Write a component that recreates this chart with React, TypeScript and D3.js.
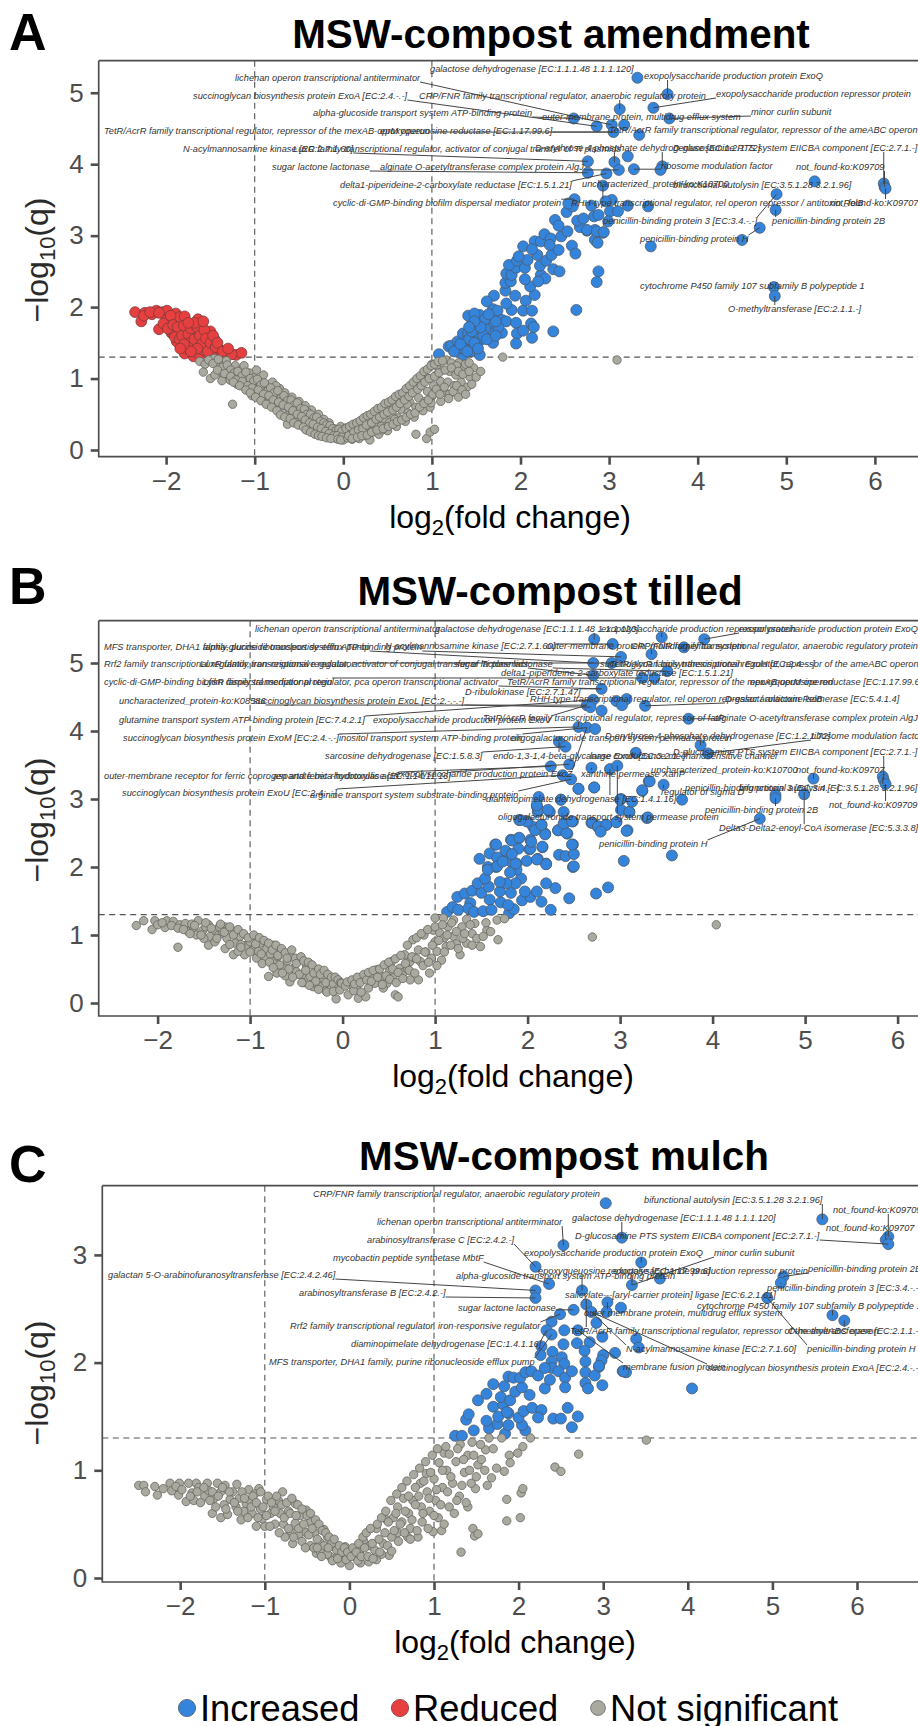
import React, { useEffect, useRef } from 'react';
import { axisBottom, axisLeft, format, scaleLinear, select } from 'd3';

type Pt = [number, number];
type Label = [string, number | null, number | null];

// ---- panel A values (log2 fold change, -log10 q)
const blueA: Pt[] = [
  [1.08,1.34],[1.19,1.45],[1.22,1.46],[1.29,1.52],[1.35,1.33],[1.30,1.42],[1.40,1.46],[1.45,1.38],[1.54,1.33],[1.54,1.53],[1.47,1.59],
  [1.35,1.63],[1.41,1.63],[1.45,1.76],[1.54,1.89],[1.41,1.88],[1.48,1.91],[1.56,1.77],[1.54,1.63],[1.66,1.73],[1.67,1.63],[1.69,1.87],
  [1.69,1.97],[1.74,1.95],[1.79,1.64],[1.69,1.50],[1.79,1.82],[1.84,1.80],[1.95,1.78],[1.96,1.63],[2.03,1.67],[2.12,1.77],[2.15,1.72],
  [2.13,1.57],[1.95,1.49],[2.37,1.66],[2.63,1.96],[2.03,1.95],[2.13,1.95],[1.90,1.96],[1.84,2.05],[2.06,2.09],[2.16,2.17],[1.94,2.16],
  [1.83,2.23],[1.70,2.16],[1.62,2.08],[2.11,2.29],[1.83,2.34],[1.89,2.36],[2.05,2.39],[2.23,2.45],[2.28,2.40],[2.20,2.36],[2.37,2.53],
  [2.44,2.50],[1.84,2.47],[1.90,2.45],[1.95,2.55],[2.05,2.55],[1.87,2.59],[1.96,2.65],[2.08,2.66],[2.22,2.58],[2.29,2.65],[2.19,2.73],
  [1.98,2.71],[2.35,2.73],[2.43,2.80],[2.03,2.85],[2.16,2.92],[2.23,2.92],[2.27,3.02],[2.34,2.96],[2.46,2.99],[2.53,3.06],[2.33,2.87],
  [2.13,2.81],[2.58,2.86],[2.62,2.75],[2.88,2.50],[2.86,2.35],[2.84,2.94],[2.87,2.90],[2.93,3.04],[2.84,3.08],[2.75,3.07],[2.67,3.12],
  [1.38,1.52],[1.50,1.45],[1.60,1.70],[1.50,1.70],[1.42,1.55],[1.75,1.72],[1.60,1.83],[1.36,1.42],
  [1.25,1.38],[1.32,1.48],[1.40,1.38],[1.48,1.50],[1.52,1.42],[1.58,1.60],[1.45,1.66],[1.62,1.55],[1.72,1.60],[1.55,1.72],[1.48,1.80],
  [1.72,1.80],[1.42,1.72],[1.64,1.90],
  [3.32,5.21],[3.66,4.98],[3.12,4.77],[3.50,4.79],[2.60,4.64],[3.68,4.64],[2.86,4.53],[3.03,4.55],[3.17,4.55],[3.05,4.45],[3.34,4.41],
  [3.21,4.11],[2.76,4.04],[3.06,4.03],[3.60,3.97],[3.58,3.92],[3.11,3.92],[3.28,3.93],[2.76,3.88],[2.97,3.87],[2.93,3.70],[5.32,3.76],
  [6.10,3.73],[6.11,3.68],[6.12,3.66],[4.89,3.58],[4.88,3.36],[4.70,3.11],[4.50,2.94],[3.47,2.85],[2.61,3.51],[3.44,3.41],[3.21,3.42],
  [2.80,3.42],[3.01,3.34],[3.10,3.34],[3.03,3.50],[2.96,3.48],[2.83,3.27],[2.88,3.29],[2.52,3.33],[2.59,3.41],[2.54,3.45],[2.39,3.22],
  [2.64,3.21],[2.71,3.24],[2.99,3.20],[2.43,3.14],[2.75,3.08],[2.86,3.06],[2.94,3.05],[4.86,2.28],[4.87,2.155],
];
const redA: Pt[] = [
  [-2.35,1.93],[-2.28,1.80],[-2.24,1.92],[-2.16,1.90],[-2.11,1.95],[-2.04,1.93],[-1.99,1.95],[-2.00,1.82],[-1.89,1.91],[-1.85,1.86],
  [-2.08,1.69],[-2.03,1.77],[-1.94,1.64],[-1.83,1.66],[-1.79,1.87],[-1.64,1.83],[-1.71,1.75],[-1.60,1.75],[-1.64,1.64],[-1.50,1.66],
  [-1.58,1.59],[-1.74,1.56],[-1.84,1.47],[-1.88,1.52],[-1.66,1.40],[-1.71,1.47],[-1.54,1.45],[-1.45,1.54],[-1.41,1.42],[-1.32,1.35],
  [-1.21,1.33],[-1.15,1.36],[-1.26,1.34],[-1.79,1.35],[-1.69,1.31],[-1.62,1.33],[-1.47,1.37],[-1.58,1.40],[-1.77,1.42],[-1.79,1.56],
  [-1.92,1.63],[-1.98,1.70],[-1.64,1.51],[-1.77,1.68],[-1.69,1.68],[-1.52,1.54],[-1.39,1.40],
  [-2.25,1.88],[-2.18,1.93],[-2.08,1.92],[-1.95,1.88],[-1.92,1.75],[-1.87,1.72],[-1.90,1.58],[-1.85,1.55],[-1.82,1.60],[-1.80,1.74],
  [-1.75,1.62],[-1.72,1.70],[-1.73,1.50],[-1.68,1.55],[-1.65,1.72],[-1.62,1.60],[-1.60,1.48],[-1.57,1.68],[-1.55,1.56],[-1.53,1.38],
  [-1.50,1.50],[-1.47,1.60],[-1.44,1.44],[-1.42,1.50],[-1.36,1.38],[-1.30,1.42],[-1.65,1.42],[-1.72,1.38],[-1.80,1.48],[-1.84,1.42],
  [-1.68,1.78],[-1.58,1.80],[-1.75,1.78],
];
const grayA: Pt[] = [
  [-1.62,1.24],[-1.56,1.20],[-1.58,1.09],[-1.50,1.00],[-1.45,1.05],[-1.46,1.28],[-1.40,1.20],[-1.38,1.10],[-1.35,1.02],[-1.32,1.25],
  [-1.30,1.13],[-1.28,0.98],[-1.25,1.06],[-1.22,1.18],[-1.20,0.92],[-1.18,1.00],[-1.15,1.12],[-1.12,1.18],[-1.12,0.88],[-1.08,0.98],
  [-1.06,1.08],[-1.04,0.83],[-1.02,0.93],[-1.00,1.02],[-0.98,1.12],[-0.97,0.78],[-0.95,0.87],[-0.92,0.97],[-0.90,1.05],[-0.88,0.80],
  [-0.85,0.90],[-0.83,0.72],[-0.80,0.83],[-0.80,0.95],[-0.77,0.66],[-0.74,0.76],[-0.72,0.86],[-0.70,0.60],[-0.68,0.70],[-0.66,0.80],
  [-0.63,0.55],[-0.60,0.66],[-0.58,0.74],[-0.63,0.36],[-0.55,0.45],[-0.52,0.60],[-0.50,0.68],[-0.47,0.38],[-0.45,0.50],[-0.43,0.62],
  [-0.40,0.33],[-0.38,0.44],[-0.36,0.56],[-0.33,0.27],[-0.30,0.40],[-0.28,0.50],[-0.26,0.23],[-0.24,0.33],[-0.22,0.43],[-0.20,0.19],
  [-0.18,0.28],[-0.16,0.38],[-0.13,0.20],[-0.11,0.30],[-0.08,0.16],[-0.05,0.24],[-0.03,0.33],[0.00,0.14],[0.02,0.22],[0.03,0.31],
  [-1.25,0.64],[-0.93,0.72],[-0.76,0.90],[-0.57,0.52],[-0.41,0.54],[-0.29,0.30],[-0.69,0.52],[-1.10,0.95],[-1.16,1.05],[-1.37,0.97],
  [-1.03,0.76],[-0.86,0.66],[-0.91,0.82],[-0.62,0.64],[-0.49,0.57],[-0.35,0.46],[-0.15,0.27],[-0.23,0.24],[-0.10,0.22],
  [-1.52,1.26],[-1.47,1.21],[-1.41,1.27],[-1.36,1.16],[-1.31,1.19],[-1.27,1.12],[-1.23,1.08],[-1.19,1.10],[-1.14,1.04],[-1.10,1.09],
  [-1.05,1.00],[-1.01,0.97],[-0.97,0.99],[-0.93,0.91],[-0.89,0.94],[-0.85,0.83],[-0.82,0.87],[-0.78,0.80],[-0.74,0.83],[-0.70,0.73],
  [-0.67,0.76],[-0.63,0.69],[-0.59,0.70],[-0.55,0.63],[-0.52,0.66],[-0.48,0.58],[-0.44,0.57],[-0.41,0.50],[-0.37,0.50],[-0.33,0.45],
  [-0.30,0.46],[-0.26,0.40],[-0.22,0.38],[-0.19,0.35],[-0.15,0.34],[-0.12,0.30],[-0.08,0.28],[-0.05,0.29],[-0.02,0.26],
  [-1.42,1.12],[-1.34,1.07],[-1.27,1.03],[-1.21,0.98],[-1.14,0.96],[-1.08,0.90],[-1.03,0.87],[-0.96,0.84],[-0.90,0.78],[-0.84,0.76],
  [-0.79,0.70],[-0.73,0.67],[-0.68,0.63],[-0.62,0.60],[-0.57,0.55],[-0.52,0.50],[-0.47,0.47],[-0.43,0.42],[-0.38,0.38],[-0.34,0.36],
  [-0.29,0.32],[-0.25,0.30],[-0.20,0.26],[-0.16,0.23],[-0.11,0.20],[-0.07,0.20],[-0.02,0.18],
  [-1.24,0.95],[-1.17,0.90],[-1.10,0.84],[-1.05,0.80],[-0.99,0.74],[-0.93,0.69],[-0.87,0.64],[-0.81,0.60],[-0.75,0.55],[-0.71,0.49],
  [-0.66,0.46],[-0.60,0.44],[-0.56,0.38],[-0.51,0.35],[-0.45,0.32],[-0.42,0.28],[-0.37,0.25],[-0.32,0.22],[-0.28,0.20],[-0.24,0.19],
  [-0.19,0.17],[-0.14,0.16],[-0.06,0.15],[-0.03,0.14],
  [0.05,0.17],[0.08,0.27],[0.10,0.15],[0.13,0.34],[0.15,0.22],[0.18,0.16],[0.20,0.30],[0.22,0.41],[0.25,0.20],[0.28,0.30],[0.30,0.44],
  [0.30,0.14],[0.33,0.25],[0.36,0.38],[0.38,0.50],[0.40,0.22],[0.43,0.33],[0.46,0.44],[0.48,0.58],[0.50,0.27],[0.52,0.38],[0.55,0.50],
  [0.57,0.63],[0.60,0.33],[0.62,0.45],[0.65,0.57],[0.67,0.72],[0.70,0.40],[0.73,0.52],[0.75,0.67],[0.77,0.80],[0.80,0.46],[0.82,0.60],
  [0.85,0.73],[0.87,0.90],[0.90,0.55],[0.92,0.68],[0.95,0.82],[0.96,1.00],[0.98,0.60],[1.00,0.75],[1.02,0.90],[1.05,1.05],[1.00,1.20],
  [1.07,0.82],[1.10,0.96],[1.12,1.12],[1.10,0.68],[1.15,0.80],[1.18,0.95],[1.20,1.10],[1.20,0.78],[1.25,0.90],[1.27,1.05],[1.30,0.74],
  [1.33,0.95],[1.36,1.14],[1.40,0.88],[1.43,1.02],[1.47,1.15],[1.16,1.26],[1.30,1.22],[1.05,1.18],[0.90,0.97],[0.72,0.64],[0.58,0.43],
  [0.82,0.22],[0.94,0.16],[0.98,0.25],[1.03,0.29],[1.80,1.30],[3.09,1.26],[0.99,0.66],[0.44,0.28],[0.24,0.26],[0.11,0.21],
  [0.03,0.30],[0.07,0.33],[0.11,0.36],[0.15,0.38],[0.19,0.41],[0.23,0.45],[0.27,0.48],[0.31,0.50],[0.35,0.54],[0.39,0.58],[0.43,0.60],
  [0.47,0.65],[0.51,0.67],[0.55,0.70],[0.59,0.75],[0.63,0.78],[0.67,0.80],[0.71,0.86],[0.75,0.90],[0.79,0.95],[0.83,1.00],[0.87,1.04],
  [0.91,1.10],[0.95,1.13],[0.99,1.18],[1.03,1.20],[1.07,1.24],[1.12,1.25],[1.22,1.22],[1.28,1.18],[1.38,1.20],[1.42,1.22],
  [0.06,0.20],[0.12,0.25],[0.17,0.28],[0.22,0.30],[0.26,0.35],[0.32,0.38],[0.37,0.43],[0.41,0.46],[0.46,0.50],[0.50,0.53],[0.56,0.56],
  [0.60,0.60],[0.64,0.65],[0.69,0.70],[0.74,0.75],[0.78,0.80],[0.84,0.85],[0.88,0.90],[0.92,0.95],[0.97,1.00],[1.03,1.03],[1.08,1.08],
  [1.15,1.12],[1.22,1.15],[1.30,1.10],[1.35,1.06],[1.42,1.10],[1.50,1.02],[1.55,1.10],
  [0.10,0.16],[0.16,0.18],[0.21,0.20],[0.27,0.21],[0.32,0.25],[0.38,0.28],[0.45,0.30],[0.51,0.33],[0.56,0.36],[0.61,0.40],[0.66,0.42],
  [0.71,0.46],[0.76,0.50],[0.81,0.52],[0.86,0.60],[0.91,0.65],[0.96,0.70],[1.01,0.78],[1.05,0.85],[1.09,0.78],[1.14,0.88],[1.19,0.72],
  [1.24,0.82],[1.28,0.90],[1.34,0.84],[1.38,0.78],[1.45,0.92],
];

const labelsA: Label[] = [
  ['galactose dehydrogenase [EC:1.1.1.48 1.1.1.120]', null, null],
  ['lichenan operon transcriptional antiterminator', 3.03, 4.55],
  ['succinoglycan biosynthesis protein ExoA [EC:2.4.-.-]', 2.86, 4.53],
  ['CRP/FNR family transcriptional regulator, anaerobic regulatory protein', 3.12, 4.77],
  ['alpha-glucoside transport system ATP-binding protein', 2.60, 4.64],
  ['outer-membrane protein, multidrug efflux system', null, null],
  ['exopolysaccharide production protein ExoQ', 3.66, 4.98],
  ['exopolysaccharide production repressor protein', 3.50, 4.79],
  ['minor curlin subunit', 3.68, 4.64],
  ['TetR/AcrR family transcriptional regulator, repressor of the mexAB-oprM operon', 3.05, 4.45],
  ['epoxyqueuosine reductase [EC:1.17.99.6]', 3.05, 4.45],
  ['TetR/AcrR family transcriptional regulator, repressor of the ameABC operon', null, null],
  ['N-acylmannosamine kinase [EC:2.7.1.60]', 2.76, 4.04],
  ['LuxR family transcriptional regulator, activator of conjugal transfer of Ti plasmids', 3.06, 4.03],
  ['D-erythrose 4-phosphate dehydrogenase [EC:1.2.1.72]', 3.60, 3.97],
  ['D-glucosamine PTS system EIICBA component [EC:2.7.1.-]', 6.10, 3.73],
  ['sugar lactone lactonase', 2.76, 3.88],
  ['alginate O-acetyltransferase complex protein AlgJ', 3.11, 3.92],
  ['ribosome modulation factor', 3.28, 3.93],
  ['not_found-ko:K09709', 6.11, 3.68],
  ['delta1-piperideine-2-carboxylate reductase [EC:1.5.1.21]', 2.97, 3.87],
  ['uncharacterized_protein-ko:K10700', null, null],
  ['bifunctional autolysin [EC:3.5.1.28 3.2.1.96]', null, null],
  ['cyclic-di-GMP-binding biofilm dispersal mediator protein', 2.61, 3.51],
  ['RHH-type transcriptional regulator, rel operon repressor / antitoxin RelB', 2.93, 3.70],
  ['not_found-ko:K09707', 6.12, 3.66],
  ['penicillin-binding protein 3 [EC:3.4.-.-]', 4.89, 3.58],
  ['penicillin-binding protein 2B', 4.88, 3.36],
  ['penicillin-binding protein H', 4.70, 3.11],
  ['cytochrome P450 family 107 subfamily B polypeptide 1', null, null],
  ['O-methyltransferase [EC:2.1.1.-]', 4.87, 2.155],
];
// left edge and middle of each label, in label order
const labelSpotA: Pt[] = [
  [430,69],[235,78],[193,96],[419,96],[313,113],[542,117],[644,76],[716,94],[751,112],[104,131],[380,131],[609,130],[183,149],[293,149],
  [535,148],[673,148],[272,167],[380,167],[661,166],[796,167],[340,185],[582,184],[673,185],[333,203],[571,203],[830,203],[603,221],[772,221],
  [640,239],[640,286],[728,309],
];

// ---- panel B values
const blueB: Pt[] = [
  [2.72,5.35],[2.92,5.28],[3.45,5.38],[3.91,5.35],[3.69,5.23],[3.34,5.13],[3.01,5.09],[2.91,5.00],[2.71,5.00],[2.71,4.82],[3.51,4.88],
  [3.24,4.78],[3.37,4.78],[2.80,4.62],[2.71,4.46],[2.64,4.38],[2.68,4.35],[2.80,4.30],[2.96,4.44],[3.07,4.47],[3.02,4.38],[3.27,4.37],
  [3.74,4.18],[2.55,4.06],[2.64,4.05],[2.73,4.03],[2.34,3.84],[2.41,3.77],[3.87,3.79],[3.95,3.67],[3.17,3.68],[2.25,3.48],[2.45,3.51],
  [2.69,3.46],[2.89,3.44],[2.97,3.49],[2.38,3.35],[2.47,3.29],[2.55,3.15],[2.72,3.17],[3.31,3.26],[3.47,3.21],[3.24,3.12],[3.67,2.99],
  [5.09,3.30],[5.84,3.33],[5.85,3.28],[5.87,3.22],[4.68,3.06],[4.68,3.01],[4.99,3.07],[4.51,2.71],[3.56,2.17],[2.12,3.03],[2.36,2.99],
  [3.01,3.00],[3.01,2.84],[3.10,2.81],[3.29,2.72],[2.69,2.65],[2.76,2.59],[2.85,2.62],[2.96,2.66],[3.08,2.54],[2.10,2.89],[2.11,2.81],
  [2.24,2.81],[2.33,2.54],[2.40,2.64],[2.49,2.67],[2.00,2.67],[1.91,2.69],[2.06,2.59],[2.15,2.62],[2.19,2.49],[2.43,2.49],[2.49,2.33],
  [2.03,2.40],[1.90,2.42],[1.82,2.40],[1.65,2.33],[1.77,2.22],[1.90,2.27],[2.02,2.26],[2.16,2.29],[2.34,2.18],[2.41,2.16],[2.50,2.19],
  [1.59,2.20],[1.67,2.14],[1.48,2.12],[1.99,2.09],[2.11,2.12],[2.20,2.05],[1.82,2.08],[1.88,2.05],[2.49,2.00],[3.04,2.09],[1.57,2.00],[1.66,2.00],
  [1.13,1.34],[1.19,1.41],[1.25,1.37],[1.24,1.56],[1.32,1.61],[1.40,1.65],[1.38,1.47],[1.36,1.39],[1.42,1.34],[1.52,1.35],[1.59,1.52],
  [1.50,1.62],[1.61,1.37],[1.71,1.48],[1.70,1.64],[1.82,1.62],[1.80,1.32],[1.85,1.38],[1.79,1.44],[1.94,1.51],[2.03,1.56],[2.10,1.64],
  [2.15,1.49],[2.25,1.37],[2.45,1.54],[2.74,1.61],[2.87,1.70],[2.30,1.69],[2.20,1.76],[1.97,1.64],[1.93,1.83],[1.87,1.76],[1.77,1.76],
  [1.70,1.78],[1.58,1.71],[1.46,1.76],[1.54,1.83],[1.57,1.96],[1.67,2.01],[1.88,1.96],[1.81,1.92],[1.87,2.05],[2.20,2.04],[2.50,2.01],
  [1.73,2.08],[2.10,2.11],[1.66,2.33],[1.76,2.24],[1.83,2.19],[1.83,2.39],[1.91,2.43],[2.03,2.27],[2.04,2.37],[2.16,2.30],[2.48,2.33],
  [2.19,2.48],[2.33,2.54],[2.42,2.50],[2.08,2.54],[1.99,2.67],[1.92,2.69],[2.15,2.62],[2.39,2.64],[2.48,2.67],[2.12,2.84],[2.22,2.84],
  [2.39,2.81],[2.10,2.91],[2.70,2.65],[2.76,2.60],[2.85,2.62],[2.79,2.52],[2.96,2.66],[3.07,2.53],[3.30,2.73],[3.00,2.99],[3.10,2.81],
  [3.13,2.96],[2.36,2.99],[2.55,3.15],[2.72,3.17],[3.24,3.13],[3.32,3.26],
];
const grayB: Pt[] = [
  [-2.23,1.14],[-2.15,1.21],[-2.06,1.08],[-2.03,1.21],[-2.00,1.15],[-1.92,1.11],[-1.90,1.21],[-1.83,1.20],[-1.76,1.15],[-1.78,0.82],
  [-1.70,1.17],[-1.67,1.05],[-1.61,1.10],[-1.56,1.21],[-1.58,1.00],[-1.51,1.07],[-1.45,1.15],[-1.45,0.85],[-1.43,0.98],[-1.38,1.07],
  [-1.38,0.90],[-1.34,1.00],[-1.27,1.12],[-1.27,0.80],[-1.25,0.95],[-1.20,1.07],[-1.18,0.71],[-1.16,0.88],[-1.11,0.98],[-1.06,0.71],
  [-1.04,0.85],[-0.98,0.95],[-0.97,0.78],[-0.93,0.66],[-0.89,0.88],[-0.84,0.66],[-0.82,0.80],[-0.80,0.39],[-0.75,0.85],[-0.73,0.63],
  [-0.71,0.44],[-0.66,0.76],[-0.64,0.53],[-0.57,0.31],[-0.57,0.71],[-0.53,0.51],[-0.48,0.63],[-0.44,0.41],[-0.39,0.54],[-0.32,0.24],
  [-0.35,0.39],[-0.28,0.49],[-0.23,0.24],[-0.21,0.36],[-0.14,0.34],[-0.07,0.06],
  [-1.30,1.05],[-1.22,0.86],[-1.13,0.76],[-1.00,0.90],[-0.91,0.76],[-0.78,0.72],[-0.70,0.68],[-0.60,0.62],[-0.50,0.46],[-0.42,0.30],
  [-0.30,0.30],[-0.18,0.18],[-0.12,0.24],[-0.62,0.40],[-0.87,0.58],[-1.10,0.86],[-1.50,0.95],[-1.63,1.16],[-1.48,1.12],[-1.33,1.12],
  [-1.95,1.18],[-1.85,1.14],[-1.78,1.10],[-1.72,1.08],[-1.65,1.02],[-1.60,1.14],[-1.53,1.00],[-1.48,1.18],[-1.42,1.10],[-1.36,0.95],
  [-1.32,1.16],[-1.28,1.04],[-1.22,1.12],[-1.18,1.00],[-1.13,1.08],[-1.10,0.82],[-1.07,1.02],[-1.02,0.96],[-1.00,0.75],[-0.96,1.00],
  [-0.94,0.87],[-0.90,0.96],[-0.88,0.72],[-0.85,0.92],[-0.80,0.88],[-0.79,0.60],[-0.76,0.78],[-0.72,0.85],[-0.70,0.70],[-0.68,0.56],
  [-0.66,0.80],[-0.62,0.74],[-0.60,0.66],[-0.58,0.50],[-0.55,0.78],[-0.51,0.66],[-0.50,0.58],[-0.47,0.42],[-0.45,0.68],[-0.42,0.62],
  [-0.40,0.48],[-0.37,0.60],[-0.33,0.56],[-0.31,0.44],[-0.29,0.32],[-0.26,0.50],[-0.24,0.42],[-0.20,0.48],[-0.18,0.30],[-0.16,0.42],
  [-0.12,0.38],[-0.10,0.28],[-0.08,0.38],[-0.05,0.34],[-0.04,0.22],[-0.02,0.30],[-0.17,0.16],[-0.26,0.20],[-0.36,0.26],[-0.44,0.30],
  [-0.54,0.38],[-0.65,0.44],[-0.75,0.52],
  [-0.10,0.17],[-0.03,0.19],[-0.01,0.29],[0.06,0.12],[0.08,0.27],[0.17,0.07],[0.15,0.24],[0.25,0.09],[0.22,0.36],[0.28,0.22],[0.37,0.49],
  [0.35,0.29],[0.42,0.39],[0.48,0.29],[0.53,0.61],[0.55,0.41],[0.62,0.51],[0.67,0.71],[0.73,0.34],[0.57,0.12],[0.60,0.09],[0.82,0.34],
  [0.76,0.93],[0.73,0.61],[0.82,0.78],[0.84,0.61],[0.94,0.44],[0.96,0.66],[0.98,1.07],[1.00,0.90],[1.07,0.63],[1.05,1.03],[1.12,0.83],
  [1.14,1.12],[1.20,0.98],[1.27,0.71],[1.29,1.12],[1.34,0.88],[1.43,1.17],[1.49,0.83],[1.56,1.07],[1.67,1.22],[1.00,1.25],[1.09,1.25],
  [1.20,1.22],[1.34,1.23],[0.12,0.18],[0.20,0.16],[0.31,0.36],[0.44,0.22],[0.51,0.48],[0.66,0.45],[0.77,0.67],[0.90,0.75],[1.02,0.76],
  [1.10,0.96],[1.23,0.87],[1.40,1.02],[0.88,1.00],[0.70,0.50],[1.68,0.93],[2.70,0.97],[4.04,1.15],[1.75,1.24],[1.60,1.05],
  [0.03,0.25],[0.05,0.31],[0.10,0.34],[0.13,0.28],[0.16,0.38],[0.19,0.30],[0.23,0.42],[0.26,0.34],[0.28,0.45],[0.31,0.32],[0.33,0.48],
  [0.38,0.38],[0.40,0.50],[0.43,0.27],[0.45,0.56],[0.47,0.40],[0.50,0.60],[0.51,0.35],[0.54,0.50],[0.57,0.65],[0.58,0.30],[0.60,0.45],
  [0.63,0.70],[0.65,0.36],[0.68,0.58],[0.70,0.85],[0.72,0.48],[0.75,0.68],[0.78,0.44],[0.80,0.96],[0.80,0.65],[0.85,1.02],[0.87,0.55],
  [0.89,0.75],[0.92,1.08],[0.93,0.60],[0.97,0.85],[1.00,1.12],[1.02,0.55],[1.04,0.92],[1.08,1.15],[1.10,0.75],[1.13,1.00],[1.17,0.85],
  [1.18,1.18],[1.23,1.05],[1.25,0.80],[1.30,0.95],[1.32,1.02],[1.38,1.15],[1.40,0.85],[1.45,0.95],[1.52,0.98],[1.55,1.18],
];

const labelsB: Label[] = [
  ['lichenan operon transcriptional antiterminator', null, null],
  ['galactose dehydrogenase [EC:1.1.1.48 1.1.1.120]', 2.72, 5.35],
  ['exopolysaccharide production repressor protein', 3.45, 5.38],
  ['exopolysaccharide production protein ExoQ', 3.91, 5.35],
  ['MFS transporter, DHA1 family, purine ribonucleoside efflux pump', 2.71, 5.00],
  ['alpha-glucoside transport system ATP-binding protein', 3.01, 5.09],
  ['N-acylmannosamine kinase [EC:2.7.1.60]', 2.92, 5.28],
  ['outer-membrane protein, multidrug efflux system', 3.34, 5.13],
  ['CRP/FNR family transcriptional regulator, anaerobic regulatory protein', 3.69, 5.23],
  ['Rrf2 family transcriptional regulator, iron-responsive regulator', 2.91, 5.00],
  ['LuxR family transcriptional regulator, activator of conjugal transfer of Ti plasmids', 2.71, 4.82],
  ['sugar lactone lactonase', 3.51, 4.88],
  ['succinoglycan biosynthesis protein ExoH [EC:2.4.-.-]', null, null],
  ['TetR/AcrR family transcriptional regulator, repressor of the ameABC operon', null, null],
  ['delta1-piperideine-2-carboxylate reductase [EC:1.5.1.21]', null, null],
  ['cyclic-di-GMP-binding biofilm dispersal mediator protein', 3.24, 4.78],
  ['LysR family transcriptional regulator, pca operon transcriptional activator', 2.80, 4.62],
  ['TetR/AcrR family transcriptional regulator, repressor of the mexAB-oprM operon', 3.37, 4.78],
  ['epoxyqueuosine reductase [EC:1.17.99.6]', null, null],
  ['D-ribulokinase [EC:2.7.1.47]', 2.80, 4.62],
  ['uncharacterized_protein-ko:K08586', 2.64, 4.38],
  ['succinoglycan biosynthesis protein ExoL [EC:2.-.-.-]', 2.68, 4.35],
  ['RHH-type transcriptional regulator, rel operon repressor / antitoxin RelB', null, null],
  ['D-galactarolactone isomerase [EC:5.4.1.4]', 3.27, 4.37],
  ['glutamine transport system ATP-binding protein [EC:7.4.2.1]', 2.71, 4.46],
  ['exopolysaccharide production protein ExoV', 2.64, 4.38],
  ['TetR/AcrR family transcriptional regulator, repressor of fatR', 2.55, 4.06],
  ['alginate O-acetyltransferase complex protein AlgJ', 3.74, 4.18],
  ['succinoglycan biosynthesis protein ExoM [EC:2.4.-.-]', 2.55, 4.06],
  ['inositol transport system ATP-binding protein', 2.64, 4.05],
  ['oligogalacturonide transport system permease protein', null, null],
  ['D-erythrose 4-phosphate dehydrogenase [EC:1.2.1.72]', 3.87, 3.79],
  ['ribosome modulation factor', 3.95, 3.67],
  ['sarcosine dehydrogenase [EC:1.5.8.3]', 2.41, 3.77],
  ['endo-1,3-1,4-beta-glycanase ExoK [EC:3.2.1.-]', 2.34, 3.84],
  ['large conductance mechanosensitive channel', null, null],
  ['D-glucosamine PTS system EIICBA component [EC:2.7.1.-]', 5.85, 3.28],
  ['aspartate beta-hydroxylase [EC:1.14.11.16]', 2.45, 3.51],
  ['outer-membrane receptor for ferric coprogen and ferric-rhodotorulic acid', 2.25, 3.48],
  ['exopolysaccharide production protein ExoZ', 2.64, 4.05],
  ['xanthine permease XanP', 2.69, 3.46],
  ['uncharacterized_protein-ko:K10700', null, null],
  ['not_found-ko:K09707', 5.09, 3.30],
  ['succinoglycan biosynthesis protein ExoU [EC:2.4.-.-]', 2.38, 3.35],
  ['arginine transport system substrate-binding protein', 2.47, 3.29],
  ['diaminopimelate dehydrogenase [EC:1.4.1.16]', 2.89, 3.44],
  ['regulator of sigma D', 3.47, 3.21],
  ['penicillin-binding protein 3 [EC:3.4.-.-]', 4.99, 3.07],
  ['bifunctional autolysin [EC:3.5.1.28 3.2.1.96]', 5.84, 3.33],
  ['penicillin-binding protein 2B', 4.68, 3.01],
  ['not_found-ko:K09709', 5.87, 3.22],
  ['oligogalacturonide transport system permease protein', 2.97, 3.49],
  ['Delta3-Delta2-enoyl-CoA isomerase [EC:5.3.3.8]', 4.99, 3.07],
  ['penicillin-binding protein H', 4.51, 2.71],
];
const labelSpotB: Pt[] = [
  [255,629],[435,629],[601,629],[739,629],[104,647],[203,647],[385,646],[546,646],[631,646],[104,664],[200,664],[455,664],[600,664],[610,664],
  [501,673],[104,682],[203,682],[507,682],[750,682],[465,692],[119,701],[253,701],[530,699],[725,699],[119,720],[373,720],[483,718],[714,718],
  [123,738],[339,738],[511,738],[605,736],[811,736],[325,756],[493,756],[590,756],[673,752],[273,776],[104,776],[395,774],[581,774],[651,770],
  [796,770],[122,793],[310,795],[486,799],[661,792],[685,788],[739,788],[705,810],[829,805],[498,817],[719,828],[599,844],
];

// ---- panel C values
const blueC: Pt[] = [
  [3.03,3.48],[5.59,3.33],[2.53,3.09],[3.22,3.16],[6.37,3.17],[6.34,3.14],[6.37,3.10],[2.20,2.89],[3.45,2.93],[2.36,2.73],[2.20,2.67],
  [2.20,2.60],[2.75,2.67],[2.80,2.54],[3.34,2.72],[3.67,2.78],[5.13,2.80],[5.10,2.74],[4.94,2.60],[5.71,2.44],[5.85,2.39],[3.05,2.56],
  [3.21,2.51],[2.65,2.49],[2.86,2.47],[3.04,2.47],[2.49,2.45],[2.92,2.37],[2.39,2.38],[2.33,2.30],[2.54,2.30],[2.70,2.30],[2.99,2.24],
  [2.39,2.26],[2.84,2.19],[3.39,2.22],[3.42,2.14],[2.27,2.15],[2.53,2.17],[2.69,2.18],[2.78,2.11],[3.14,2.09],[2.26,2.07],[2.40,2.10],
  [2.51,2.05],[2.79,2.01],[3.00,2.07],[2.98,2.02],[2.95,1.96],[3.23,1.92],[3.27,1.91],[2.39,2.01],[2.54,1.99],[2.39,1.95],[4.05,1.76],
  [1.25,1.32],[1.33,1.32],[1.47,1.37],[1.84,1.34],[2.08,1.37],[1.65,1.39],[2.04,1.42],[1.38,1.47],[1.41,1.52],[1.62,1.46],[1.75,1.43],
  [1.88,1.42],[1.76,1.50],[1.88,1.53],[2.00,1.49],[2.06,1.55],[2.16,1.58],[2.27,1.56],[2.23,1.49],[2.41,1.48],[2.50,1.48],[2.70,1.50],
  [2.63,1.40],[2.58,1.58],[1.70,1.59],[1.82,1.61],[1.86,1.54],[1.52,1.65],[1.62,1.71],[1.79,1.68],[1.90,1.65],[1.70,1.80],[1.83,1.78],
  [1.96,1.73],[2.04,1.77],[2.13,1.70],[1.88,1.87],[1.94,1.86],[2.02,1.86],[2.08,1.91],[2.15,1.92],[2.23,1.88],[2.31,1.76],[2.31,1.95],
  [2.37,1.84],[2.47,1.92],[2.55,1.86],[2.55,1.77],[2.63,1.92],[2.79,1.91],[2.79,1.81],[2.82,1.76],[2.99,1.79],[2.90,1.88],
  [2.95,1.97],[3.24,1.92],
];
const grayC: Pt[] = [
  [-2.49,0.86],[-2.43,0.86],[-2.41,0.80],[-2.27,0.77],[-2.30,0.85],[-2.12,0.88],[-2.01,0.88],[-1.90,0.88],[-1.81,0.88],[-2.02,0.77],
  [-1.93,0.71],[-1.68,0.88],[-1.56,0.88],[-1.47,0.86],[-1.33,0.87],[-1.71,0.76],[-1.62,0.60],[-1.52,0.56],[-1.44,0.59],[-1.28,0.54],
  [-1.41,0.73],[-1.19,0.82],[-1.07,0.83],[-0.79,0.80],[-1.10,0.48],[-1.00,0.48],[-1.22,0.69],[-0.98,0.73],[-0.76,0.38],[-0.67,0.32],
  [-0.82,0.60],[-0.64,0.69],[-0.51,0.63],[-0.39,0.23],[-0.51,0.42],[-0.64,0.51],[-0.30,0.45],[-0.23,0.20],[-0.17,0.29],[-0.08,0.17],
  [0.00,0.115],[-0.05,0.29],[-2.20,0.83],[-2.10,0.81],[-2.05,0.85],[-1.86,0.79],[-1.78,0.84],[-1.84,0.72],[-1.76,0.70],[-1.66,0.81],
  [-1.60,0.74],[-1.52,0.80],[-1.48,0.68],[-1.38,0.80],[-1.34,0.66],[-1.30,0.74],[-1.25,0.62],[-1.17,0.72],[-1.15,0.60],[-1.12,0.78],
  [-1.05,0.64],[-0.93,0.60],[-1.03,0.55],[-0.90,0.66],[-0.88,0.50],[-0.84,0.72],[-0.78,0.50],[-0.72,0.62],[-0.70,0.44],[-0.58,0.58],
  [-0.60,0.40],[-0.56,0.34],[-0.46,0.52],[-0.46,0.30],[-0.41,0.42],[-0.35,0.33],[-0.26,0.38],[-0.22,0.30],[-0.13,0.22],[-0.30,0.26],
  [-1.98,0.82],[-1.88,0.76],[-1.80,0.80],[-1.72,0.84],[-1.65,0.72],[-1.62,0.80],[-1.58,0.66],[-1.55,0.76],[-1.50,0.84],[-1.46,0.64],
  [-1.42,0.80],[-1.36,0.70],[-1.32,0.62],[-1.27,0.80],[-1.24,0.74],[-1.20,0.56],[-1.16,0.66],[-1.14,0.76],[-1.10,0.70],[-1.08,0.56],
  [-1.05,0.80],[-1.02,0.66],[-0.98,0.58],[-0.96,0.76],[-0.94,0.48],[-0.92,0.70],[-0.88,0.62],[-0.86,0.76],[-0.83,0.42],[-0.80,0.68],
  [-0.77,0.56],[-0.74,0.70],[-0.72,0.46],[-0.70,0.60],[-0.68,0.74],[-0.66,0.38],[-0.63,0.58],[-0.61,0.68],[-0.60,0.46],[-0.56,0.64],
  [-0.54,0.50],[-0.52,0.28],[-0.50,0.58],[-0.48,0.40],[-0.46,0.60],[-0.44,0.46],[-0.42,0.28],[-0.40,0.54],[-0.38,0.36],[-0.36,0.50],
  [-0.34,0.24],[-0.32,0.44],[-0.30,0.30],[-0.28,0.42],[-0.26,0.22],[-0.24,0.38],[-0.21,0.32],[-0.20,0.16],[-0.18,0.36],[-0.15,0.26],
  [-0.12,0.30],[-0.10,0.14],[-0.09,0.24],[-0.06,0.28],[-0.04,0.17],[-0.02,0.24],[-0.14,0.18],[-0.25,0.28],[-0.33,0.20],[-0.38,0.28],
  [0.07,0.20],[0.13,0.14],[0.23,0.15],[0.32,0.17],[0.47,0.21],[0.17,0.34],[0.32,0.46],[0.44,0.54],[0.57,0.66],[0.57,0.42],[0.69,0.38],
  [0.81,0.38],[0.75,0.72],[0.84,0.88],[0.91,0.97],[0.99,0.43],[1.09,0.44],[1.06,1.07],[1.12,1.16],[1.18,1.15],[1.31,1.24],[1.32,0.24],
  [1.46,0.46],[1.48,0.39],[1.52,0.41],[1.40,0.66],[1.49,0.83],[1.61,1.19],[1.63,0.86],[1.68,0.93],[1.65,1.30],[1.80,1.30],[1.86,0.73],
  [1.86,0.53],[2.02,0.56],[2.03,0.79],[2.05,0.83],[1.83,0.99],[1.74,1.02],[1.89,1.14],[1.90,1.07],[1.99,1.16],[2.05,1.22],[2.14,1.30],
  [2.43,1.03],[2.50,0.99],[2.71,1.15],[3.51,1.28],
  [0.12,0.24],[0.24,0.30],[0.30,0.26],[0.40,0.32],[0.38,0.22],[0.50,0.38],[0.52,0.56],[0.62,0.52],[0.64,0.74],[0.70,0.60],[0.72,0.46],
  [0.78,0.84],[0.85,0.66],[0.86,0.52],[0.92,0.80],[0.95,0.62],[1.00,0.92],[1.02,0.72],[1.05,0.56],[1.10,0.84],[1.15,1.00],[1.18,0.66],
  [1.22,0.88],[1.26,1.08],[1.30,0.76],[1.36,0.98],[1.40,1.14],[1.44,0.88],[1.52,1.05],[1.55,1.24],[1.60,1.00],[1.70,1.20],[1.45,1.26],
  [0.02,0.20],[0.04,0.28],[0.08,0.24],[0.10,0.16],[0.11,0.32],[0.14,0.20],[0.16,0.38],[0.18,0.28],[0.20,0.42],[0.22,0.20],[0.25,0.46],
  [0.27,0.32],[0.28,0.18],[0.33,0.50],[0.35,0.36],[0.36,0.24],[0.38,0.56],[0.42,0.42],[0.43,0.62],[0.45,0.30],[0.46,0.52],[0.49,0.72],
  [0.50,0.25],[0.53,0.44],[0.55,0.60],[0.56,0.78],[0.58,0.34],[0.60,0.50],[0.62,0.84],[0.65,0.42],[0.66,0.62],[0.68,0.90],[0.70,0.76],
  [0.72,0.36],[0.74,0.54],[0.76,0.96],[0.78,0.68],[0.80,0.44],[0.82,0.76],[0.83,1.02],[0.87,0.60],[0.88,0.90],[0.90,1.08],[0.93,0.46],
  [0.94,0.74],[0.96,0.98],[0.98,1.14],[1.00,0.58],[1.03,0.82],[1.04,1.20],[1.08,0.68],[1.10,1.00],[1.12,0.50],[1.14,1.22],[1.16,0.80],
  [1.20,0.94],[1.24,0.60],[1.27,0.72],[1.28,1.20],[1.33,0.86],[1.35,1.10],[1.38,0.70],[1.42,1.00],[1.47,1.14],[1.50,0.94],[1.56,1.10],
];

const labelsC: Label[] = [
  ['CRP/FNR family transcriptional regulator, anaerobic regulatory protein', null, null],
  ['bifunctional autolysin [EC:3.5.1.28 3.2.1.96]', 5.59, 3.33],
  ['not_found-ko:K09709', 6.37, 3.17],
  ['not_found-ko:K09707', 6.34, 3.14],
  ['galactose dehydrogenase [EC:1.1.1.48 1.1.1.120]', 3.22, 3.16],
  ['lichenan operon transcriptional antiterminator', 2.53, 3.09],
  ['D-glucosamine PTS system EIICBA component [EC:2.7.1.-]', 6.37, 3.10],
  ['arabinosyltransferase C [EC:2.4.2.-]', 2.20, 2.89],
  ['exopolysaccharide production protein ExoQ', 3.45, 2.93],
  ['minor curlin subunit', 3.34, 2.72],
  ['mycobactin peptide synthetase MbtF', 2.36, 2.73],
  ['epoxyqueuosine reductase [EC:1.17.99.6]', 2.75, 2.67],
  ['exopolysaccharide production repressor protein', 3.34, 2.72],
  ['penicillin-binding protein 2B', 5.13, 2.80],
  ['alpha-glucoside transport system ATP-binding protein', 3.67, 2.78],
  ['galactan 5-O-arabinofuranosyltransferase [EC:2.4.2.46]', 2.20, 2.67],
  ['arabinosyltransferase B [EC:2.4.2.-]', 2.20, 2.60],
  ['penicillin-binding protein 3 [EC:3.4.-.-]', 5.10, 2.74],
  ['salicylate---[aryl-carrier protein] ligase [EC:6.2.1.61]', 2.80, 2.54],
  ['cytochrome P450 family 107 subfamily B polypeptide 1', 5.71, 2.44],
  ['sugar lactone lactonase', 2.65, 2.49],
  ['outer membrane protein, multidrug efflux system', 3.05, 2.56],
  ['Rrf2 family transcriptional regulator, iron-responsive regulator', 2.49, 2.45],
  ['TetR/AcrR family transcriptional regulator, repressor of the ameABC operon', 2.80, 2.54],
  ['O-methyltransferase [EC:2.1.1.-]', 5.85, 2.39],
  ['diaminopimelate dehydrogenase [EC:1.4.1.16]', 2.33, 2.30],
  ['N-acylmannosamine kinase [EC:2.7.1.60]', 2.86, 2.47],
  ['penicillin-binding protein H', 4.94, 2.60],
  ['MFS transporter, DHA1 family, purine ribonucleoside efflux pump', 2.39, 2.26],
  ['membrane fusion protein', 2.70, 2.30],
  ['succinoglycan biosynthesis protein ExoA [EC:2.4.-.-]', 2.86, 2.47],
];
const labelSpotC: Pt[] = [
  [313,1194],[644,1200],[833,1210],[826,1228],[572,1218],[377,1222],[575,1236],[367,1240],[524,1253],[714,1253],[333,1258],[538,1271],[613,1271],
  [808,1269],[456,1276],[108,1275],[299,1293],[767,1288],[565,1295],[697,1306],[458,1308],[584,1313],[290,1326],[570,1331],[788,1331],[351,1344],
  [626,1349],[807,1349],[269,1362],[623,1367],[707,1368],
];

const xTicks = [-2, -1, 0, 1, 2, 3, 4, 5, 6];
const legendNames = ['Increased', 'Reduced', 'Not significant'];

const SANS = '"Liberation Sans", Arial, sans-serif';
const BLUE = '#3584dc';
const RED = '#e63f3f';
const GRAY = '#aaa99f';
const INK = '#4d4d4d';
const LABEL_SIZE = 9.25;

const measure = document.createElement('canvas').getContext('2d')!;
measure.font = `italic ${LABEL_SIZE}px "Liberation Sans"`;

const clamp = (v: number, lo: number, hi: number) => Math.min(hi, Math.max(lo, v));

type PanelProps = {
  letter: string; letterY: number;
  title: string; titleX: number; titleY: number;
  top: number; bottom: number; left: number;
  zeroY: number; unitY: number; zeroX: number; unitX: number;
  yTicks: number[];
  labelMid: number; xLabelX: number;
  blue: Pt[]; red: Pt[]; gray: Pt[]; labels: Label[]; spots: Pt[];
};

function Panel(p: PanelProps) {
  const right = 918;
  const x = scaleLinear().domain([0, 1]).range([p.zeroX, p.zeroX + p.unitX]);
  const y = scaleLinear().domain([0, 1]).range([p.zeroY, p.zeroY - p.unitY]);
  const xRef = useRef<SVGGElement>(null);
  const yRef = useRef<SVGGElement>(null);

  useEffect(() => {
    const gx = select(xRef.current!);
    gx.call(axisBottom(x).tickValues(xTicks).tickFormat(format('d') as any).tickSize(8).tickPadding(7));
    gx.select('.domain').remove();
    gx.selectAll('line').attr('stroke', INK).attr('stroke-width', 2.6);
    gx.selectAll('text').attr('fill', INK).attr('font-size', 26).attr('font-family', SANS);
    const gy = select(yRef.current!);
    gy.call(axisLeft(y).tickValues(p.yTicks).tickFormat(format('d') as any).tickSize(8).tickPadding(7));
    gy.select('.domain').remove();
    gy.selectAll('line').attr('stroke', INK).attr('stroke-width', 2.6);
    gy.selectAll('text').attr('fill', INK).attr('font-size', 26).attr('font-family', SANS);
  }, []);

  const dot = (pts: Pt[], fill: string, r: number, stroke: string) =>
    pts.map((d, i) => (
      <circle key={i} cx={x(d[0])} cy={y(d[1])} r={r} fill={fill} stroke={stroke} strokeWidth={0.8} />
    ));

  return (
    <g fontFamily={SANS}>
      <text x={9} y={p.letterY} fontSize={52} fontWeight="bold" fill="#000">{p.letter}</text>
      <text x={p.titleX} y={p.titleY} fontSize={40.4} fontWeight="bold" fill="#000" textAnchor="middle">{p.title}</text>

      <g stroke="#555" strokeWidth={1.1} strokeDasharray="6 4.5">
        <line x1={x(-1)} x2={x(-1)} y1={p.top} y2={p.bottom} />
        <line x1={x(1)} x2={x(1)} y1={p.top} y2={p.bottom} />
        <line x1={p.left} x2={right} y1={y(1.3)} y2={y(1.3)} />
      </g>

      {dot(p.blue, BLUE, 5.5, '#4a5a6c')}
      {dot(p.red, RED, 5.4, '#7d3a3a')}
      {dot(p.gray, GRAY, 4.2, '#666660')}

      <path d={`M${p.left},${p.top}H${right}M${p.left},${p.top}V${p.bottom}H${right}`} fill="none" stroke={INK} strokeWidth={1.7} />
      <g ref={xRef} transform={`translate(0,${p.bottom})`} />
      <g ref={yRef} transform={`translate(${p.left},0)`} />

      {p.labels.map((d, i) => {
        const [lx, ly] = p.spots[i];
        const w = measure.measureText(d[0]).width;
        if (d[1] === null || d[2] === null) return null;
        const tx = x(d[1]);
        const ty = y(d[2]);
        return (
          <line key={i} x1={clamp(tx, lx, lx + w)} y1={clamp(ty, ly - 4, ly + 4)} x2={tx} y2={ty} stroke="#444" strokeWidth={1} />
        );
      })}
      {p.labels.map((d, i) => (
        <text key={i} x={p.spots[i][0]} y={p.spots[i][1] + 3.3} fontSize={LABEL_SIZE} fontStyle="italic" fill="#333">{d[0]}</text>
      ))}

      <text x={p.xLabelX} y={p.bottom + 71} fontSize={32} fill="#000" textAnchor="middle">
        log<tspan fontSize={22} dy={7}>2</tspan><tspan dy={-7}>(fold change)</tspan>
      </text>
      <text transform={`translate(48,${p.labelMid}) rotate(-90)`} fontSize={32} fill="#2a2a2a" textAnchor="middle">
        −log<tspan fontSize={22} dy={7}>10</tspan><tspan dy={-7}>(q)</tspan>
      </text>
    </g>
  );
}

export default function App() {
  return (
    <svg width={918} height={1726} style={{ position: 'absolute', left: 0, top: 0, background: '#fff' }}>
      <Panel letter="A" letterY={50} title="MSW-compost amendment" titleX={551} titleY={48}
        top={60.7} bottom={456.7} left={98.7} zeroY={450} unitY={71.45} zeroX={343.3} unitX={88.6}
        yTicks={[0, 1, 2, 3, 4, 5]} labelMid={260} xLabelX={510}
        blue={blueA} red={redA} gray={grayA} labels={labelsA} spots={labelSpotA} />
      <Panel letter="B" letterY={604} title="MSW-compost tilled" titleX={550} titleY={605}
        top={620.7} bottom={1016} left={98.7} zeroY={1003} unitY={68} zeroX={342.6} unitX={92.5}
        yTicks={[0, 1, 2, 3, 4, 5]} labelMid={820} xLabelX={513}
        blue={blueB} red={[]} gray={grayB} labels={labelsB} spots={labelSpotB} />
      <Panel letter="C" letterY={1182} title="MSW-compost mulch" titleX={564} titleY={1170}
        top={1185.7} bottom={1582} left={102.3} zeroY={1578} unitY={107.7} zeroX={349.4} unitX={84.6}
        yTicks={[0, 1, 2, 3]} labelMid={1383} xLabelX={515}
        blue={blueC} red={[]} gray={grayC} labels={labelsC} spots={labelSpotC} />

      <g fontFamily={SANS} fontSize={36.3} fill="#000">
        <circle cx={187} cy={1708} r={8.6} fill={BLUE} stroke="#4a5a6c" strokeWidth={0.8} />
        <text x={200} y={1721}>{legendNames[0]}</text>
        <circle cx={400} cy={1708} r={8.6} fill={RED} stroke="#7d3a3a" strokeWidth={0.8} />
        <text x={413} y={1721}>{legendNames[1]}</text>
        <circle cx={598} cy={1708} r={7.4} fill={GRAY} stroke="#666660" strokeWidth={0.8} />
        <text x={610} y={1721}>{legendNames[2]}</text>
      </g>
    </svg>
  );
}
